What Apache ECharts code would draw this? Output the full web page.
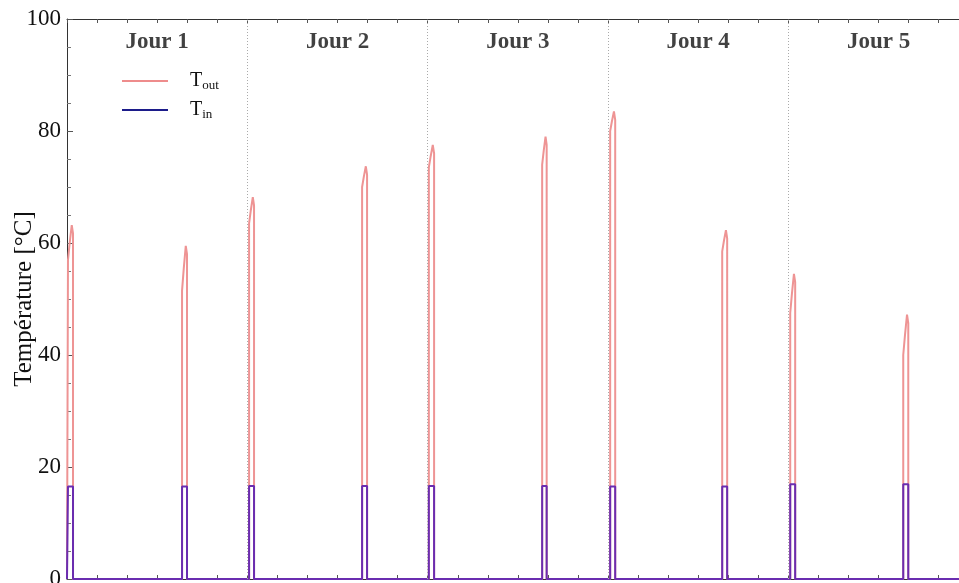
<!DOCTYPE html>
<html><head><meta charset="utf-8">
<script src="https://cdn.jsdelivr.net/npm/echarts@6/dist/echarts.min.js"></script>
<style>html,body{margin:0;padding:0;background:#fff}#c{width:959px;height:583px}</style>
</head><body><div id="c"></div>
<script>
// ---- data (time in hours, temperature in °C) ----
const dayLabels = ['Jour 1', 'Jour 2', 'Jour 3', 'Jour 4', 'Jour 5'];
const dayCenters = [12, 36, 60, 84, 108];
const dayBoundaries = [24, 48, 72, 96];
const pulseStart = [0.13, 15.31, 24.23, 39.27, 48.15, 63.23, 72.28, 87.19, 96.24, 111.28];
const pulseEnd   = [0.80, 15.97, 24.89, 39.93, 48.85, 63.83, 72.95, 87.85, 96.90, 111.95];
const tInLevel   = [16.5, 16.5, 16.6, 16.6, 16.6, 16.6, 16.5, 16.5, 16.9, 16.9];
const tOutPeak   = [63.2, 59.5, 68.2, 73.7, 77.5, 79.0, 83.5, 62.3, 54.5, 47.2];
const tOutShoulder = [57.0, 51.5, 63.5, 70.0, 73.5, 74.0, 80.0, 58.5, 47.5, 40.0];
const yTicks = [0, 20, 40, 60, 80, 100];

// ---- build series points ----
const tIn = [[0, 0]];
const tOut = [[0, 0]];
for (let i = 0; i < pulseStart.length; i++) {
  const s = pulseStart[i], e = pulseEnd[i], w = e - s;
  tIn.push([s, 0], [s, tInLevel[i]], [e, tInLevel[i]], [e, 0]);
  tOut.push([s, 0], [s, tOutShoulder[i]], [s + w * 0.35, (tOutShoulder[i] + tOutPeak[i]) / 2],
            [s + w * 0.75, tOutPeak[i]], [e, tOutPeak[i] - 1.5], [e, 0]);
}
tIn.push([120, 0]);
tOut.push([120, 0]);

const serif = '"Liberation Serif","DejaVu Serif",serif';
const chart = echarts.init(document.getElementById('c'));
chart.setOption({
  animation: false,
  grid: { left: 67, right: 0, top: 19, bottom: 4, containLabel: false, outerBoundsMode: 'none' },
  xAxis: [
    { type: 'value', min: 0, max: 118.7, interval: 4, position: 'bottom',
      axisLine: { lineStyle: { color: '#333', width: 1 } },
      axisTick: { inside: true, length: 4, lineStyle: { color: '#555' } },
      axisLabel: { show: false }, splitLine: { show: false } },
    { type: 'value', min: 0, max: 118.7, interval: 4, position: 'top',
      axisLine: { show: true, lineStyle: { color: '#333', width: 1 } },
      axisTick: { inside: true, length: 4, lineStyle: { color: '#555' } },
      axisLabel: { show: false }, splitLine: { show: false } }
  ],
  yAxis: {
    type: 'value', min: 0, max: 100, interval: 20,
    name: 'Température [°C]', nameLocation: 'middle', nameGap: 30, nameMoveOverlap: false,
    nameTextStyle: { fontFamily: serif, fontSize: 25, color: '#111' },
    axisLine: { show: true, lineStyle: { color: '#333', width: 1 } },
    axisTick: { inside: true, length: 6, lineStyle: { color: '#555' } },
    minorTick: { show: true, splitNumber: 4, length: 4, lineStyle: { color: '#777' } },
    axisLabel: { fontFamily: serif, fontSize: 23, color: '#111', margin: 6,
      formatter: v => yTicks.includes(v) ? String(v) : '' },
    splitLine: { show: false }
  },
  legend: {
    orient: 'vertical', left: 117, top: 66, itemWidth: 46, itemHeight: 12, itemGap: 8,
    data: [
      { name: 'T_out', icon: 'path://M0,0L46,0L46,2L0,2Z', itemStyle: { color: '#ee8c8c' } },
      { name: 'T_in', icon: 'path://M0,0L46,0L46,2L0,2Z', itemStyle: { color: '#1c1c8a' } }
    ],
    formatter: n => n === 'T_out' ? '{a|T}{b|out}' : '{a|T}{b|in}',
    textStyle: { fontFamily: serif, color: '#111', padding: [0, 0, 0, 17],
      rich: { a: { fontFamily: serif, fontSize: 20, color: '#111' },
              b: { fontFamily: serif, fontSize: 13, color: '#111', padding: [9, 0, 0, 0] } } }
  },
  series: [
    { name: 'T_out', type: 'line', data: tOut, symbol: 'none', z: 2,
      lineStyle: { color: '#ee9494', width: 2 }, itemStyle: { color: '#ee8c8c' } },
    { name: 'T_in', type: 'line', data: tIn, symbol: 'none', z: 3,
      lineStyle: { color: '#6a2db0', width: 2 }, itemStyle: { color: '#1c1c8a' },
      markLine: { silent: true, symbol: 'none', label: { show: false },
        lineStyle: { color: '#aaa', type: [1, 2], width: 1 },
        data: dayBoundaries.map(v => ({ xAxis: v })) } },
    { name: 'days', type: 'scatter', symbolSize: 0, z: 5,
      data: dayCenters.map((c, i) => [c, 95.9, dayLabels[i]]),
      label: { show: true, position: 'inside', formatter: p => p.value[2],
        fontFamily: serif, fontWeight: 'bold', fontSize: 23, color: '#111' } }
  ]
});
</script></body></html>
